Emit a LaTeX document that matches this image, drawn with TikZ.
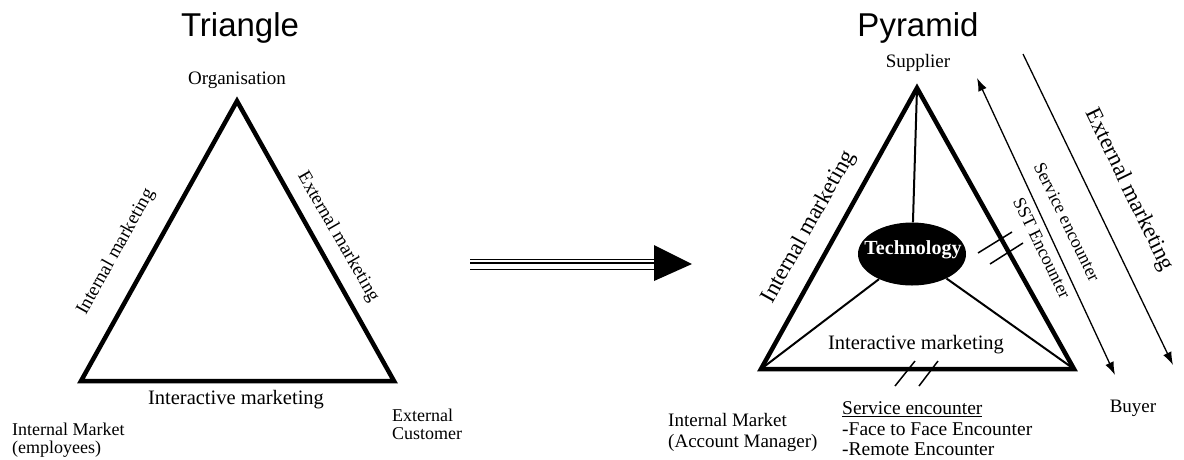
\documentclass[tikz,border=0pt]{standalone}
\usepackage{fontspec}
\setmainfont{Liberation Serif}
\newfontfamily\titlefont{Liberation Sans}
\usetikzlibrary{shapes.geometric,arrows.meta}

\begin{document}
\begin{tikzpicture}[x=1pt,y=-1pt,
  lbl/.style={font=\fontsize{19}{21}\selectfont, inner sep=0pt},
  biglbl/.style={font=\fontsize{23}{25}\selectfont, inner sep=0pt},
  ttl/.style={font=\titlefont\fontsize{33}{35}\selectfont, inner sep=0pt},
  frame/.style={line width=4.5pt, line join=miter},
  spoke/.style={line width=2pt},
  flow/.style={line width=1.3pt, >={Latex[length=13pt,width=9pt]}},
  hash/.style={line width=1.5pt}]

\useasboundingbox (0,0) rectangle (1184,459);

% ---------------- Triangle ----------------
\node[ttl] (ttlL) at (240,28) {Triangle};

\coordinate (org) at (237,101);
\coordinate (emp) at (81,381);
\coordinate (cust) at (394,381);
\draw[frame] (org) -- (emp) -- (cust) -- cycle;

\node[lbl] (orgL) at (237,80) {Organisation};
\node[lbl, rotate=61] (intL) at (116,252) {Internal marketing};
\node[lbl, rotate=-60] (extL) at (338,237) {External marketing};
\node[lbl, font=\fontsize{20.5}{22}\selectfont] (interL) at (236,400) {Interactive marketing};
\node[lbl, font=\fontsize{18}{18}\selectfont, align=left, anchor=west] (empL) at (12,440)
  {Internal Market\\(employees)};
\node[lbl, font=\fontsize{18}{18}\selectfont, align=left, anchor=west] (custL) at (392,424)
  {External\\Customer};

% ---------------- transition arrow ----------------
\coordinate (arrS) at (470,263);
\coordinate (arrE) at (654,263);
\coordinate (arrT) at (692,264);
\draw[line width=2pt] (arrS) -- (arrE);
\draw[line width=1pt] ([yshift=4pt]arrS) -- ([yshift=4pt]arrE);
\draw[line width=1pt] ([yshift=-6pt]arrS) -- ([yshift=-6pt]arrE);
\fill ([yshift=18pt]arrE) -- (arrT) -- ([yshift=-18pt]arrE) -- cycle;

% ---------------- Pyramid ----------------
\node[ttl] (ttlR) at (918,28) {Pyramid};

\coordinate (sup) at (917,88);
\coordinate (am) at (761,369);
\coordinate (buy) at (1074,369);
\draw[frame] (sup) -- (am) -- (buy) -- cycle;

\node[ellipse, fill=black, minimum width=108pt, minimum height=63pt, inner sep=0pt]
  (tech) at (912,254) {};
\node[text=white, inner sep=0pt, font=\bfseries\fontsize{20}{22}\selectfont]
  (techL) at (913,250) {Technology};
\draw[spoke] (tech) -- (sup);
\draw[spoke] (tech) -- (am);
\draw[spoke] (tech) -- (buy);

\node[lbl] (supL) at (918,63) {Supplier};
\node[biglbl, rotate=61] (intR) at (809,227) {Internal marketing};
\node[lbl, font=\fontsize{20.5}{22}\selectfont] (interR) at (916,345) {Interactive marketing};

% service encounter (two-way) and external marketing (one-way)
\coordinate (seA) at (977,78);
\coordinate (seB) at (1115,375);
\draw[flow, <->] (seA) -- (seB);
\node[lbl, font=\fontsize{18}{20}\selectfont, rotate=-64] (seL) at (1067,222) {Service encounter};
\node[lbl, font=\fontsize{18}{20}\selectfont, rotate=-64] (sstL) at (1042,248) {SST Encounter};

\coordinate (emA) at (1023,54);
\coordinate (emB) at (1173,365);
\draw[flow, ->] (emA) -- (emB);
\node[biglbl, rotate=-64] (extR) at (1129,190) {External marketing};

% break marks on the buyer edges
\coordinate (h1a) at (978,253); \coordinate (h1b) at (1012,232);
\coordinate (h2a) at (990,264); \coordinate (h2b) at (1023,243);
\draw[hash] (h1a) -- (h1b);
\draw[hash] (h2a) -- (h2b);
\coordinate (h3a) at (895,386); \coordinate (h3b) at (915,361);
\coordinate (h4a) at (919,386); \coordinate (h4b) at (938,361);
\draw[hash] (h3a) -- (h3b);
\draw[hash] (h4a) -- (h4b);

\node[lbl] (buyL) at (1133,408) {Buyer};
\node[lbl, font=\fontsize{19}{21}\selectfont, align=left, anchor=west] (amL) at (668,432)
  {Internal Market\\(Account Manager)};
\node[lbl, font=\fontsize{19.5}{20.5}\selectfont, align=left, anchor=west] (encL) at (842,429)
  {\underline{Service encounter}\\-Face to Face Encounter\\-Remote Encounter};

\end{tikzpicture}
\end{document}
